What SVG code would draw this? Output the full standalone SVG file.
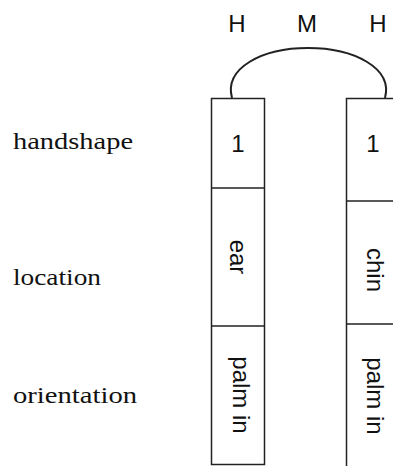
<svg xmlns="http://www.w3.org/2000/svg" width="393" height="466" viewBox="0 0 393 466">
<style>
.lbl{font-family:"Liberation Serif","Times New Roman",serif;font-size:24px;fill:#111}
.sans{font-family:"Liberation Sans",Arial,sans-serif;font-size:24px;fill:#111;text-anchor:middle}
.box{fill:#fff;stroke:#222;stroke-width:1.5}
.div{stroke:#222;stroke-width:1.5}
.arc{fill:none;stroke:#222;stroke-width:2}
</style>
<rect width="393" height="466" fill="#fff"/>
<g id="row-labels">
<text class="lbl" x="13" y="149" textLength="120" lengthAdjust="spacingAndGlyphs">handshape</text>
<text class="lbl" x="13" y="285" textLength="88" lengthAdjust="spacingAndGlyphs">location</text>
<text class="lbl" x="13" y="403" textLength="124" lengthAdjust="spacingAndGlyphs">orientation</text>
</g>
<g id="tier-labels">
<text class="sans" x="237" y="32">H</text>
<text class="sans" x="307" y="32">M</text>
<text class="sans" x="378" y="32">H</text>
</g>
<g id="connectors">
<path class="arc" d="M232,98 C224,68 262,48 308,48 C354,48 393,68 385,98"/>
</g>
<g id="segment-left">
<rect class="box" x="211.5" y="98.5" width="53" height="366"/>
<line class="div" x1="211.5" y1="188" x2="264.5" y2="188"/>
<line class="div" x1="211.5" y1="326" x2="264.5" y2="326"/>
<text class="sans" x="238" y="152">1</text>
<text class="sans" transform="translate(230,257) rotate(90)" x="0" y="0">ear</text>
<text class="sans" transform="translate(233,395) rotate(90)" x="0" y="0">palm in</text>
</g>
<g id="segment-right">
<rect class="box" x="346.5" y="98.5" width="60" height="380"/>
<line class="div" x1="346.5" y1="201" x2="400" y2="201"/>
<line class="div" x1="346.5" y1="324" x2="400" y2="324"/>
<text class="sans" x="373" y="152">1</text>
<text class="sans" transform="translate(367,270) rotate(90)" x="0" y="0">chin</text>
<text class="sans" transform="translate(367,396) rotate(90)" x="0" y="0">palm in</text>
</g>
</svg>
